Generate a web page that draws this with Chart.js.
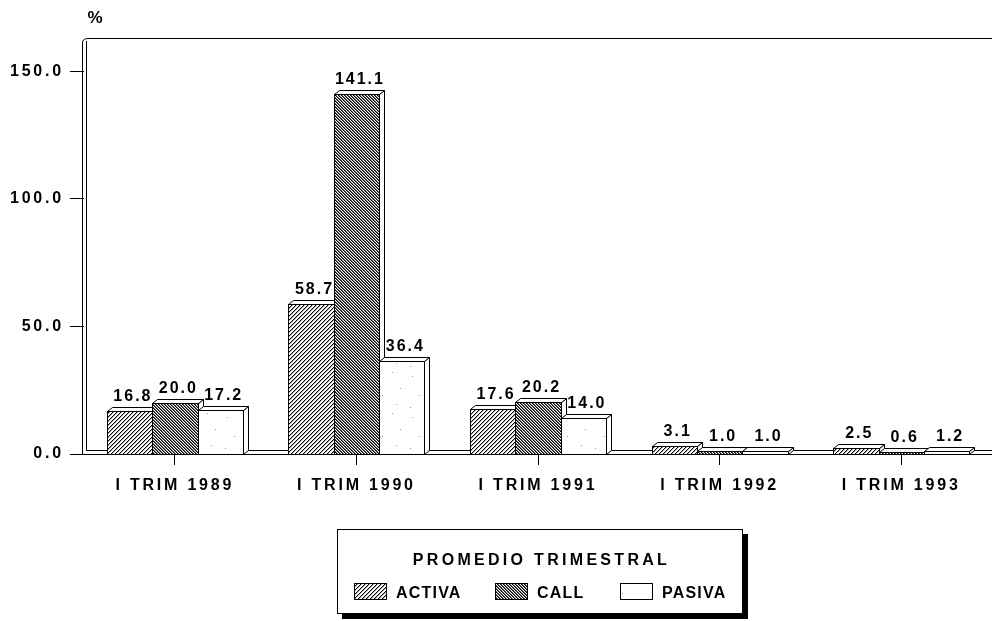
<!DOCTYPE html>
<html lang="es">
<head>
    <meta charset="UTF-8">
    <title>Promedio trimestral</title>
    <script src="https://cdn.jsdelivr.net/npm/chart.js@4.4.1/dist/chart.umd.min.js"></script>
    <style>
        body { margin: 0; background: #fff; }
        canvas { display: block; }
    </style>
</head>
<body>
    <canvas id="tasas" width="992" height="621"></canvas>

    <script>
        // datos
        const periodos = ['I TRIM 1989', 'I TRIM 1990', 'I TRIM 1991', 'I TRIM 1992', 'I TRIM 1993'];
        const activa = [16.8, 58.7, 17.6, 3.1, 2.5];
        const call = [20.0, 141.1, 20.2, 1.0, 0.6];
        const pasiva = [17.2, 36.4, 14.0, 1.0, 1.2];
        const yTicks = [0, 50, 100, 150];
        const series = ['ACTIVA', 'CALL', 'PASIVA'];
        const legendTitle = 'PROMEDIO TRIMESTRAL';

        const FONT = '"Liberation Sans", Arial, sans-serif';
        const DX = 5, DY = 4;   // profundidad 3D

        const canvas = document.getElementById('tasas');
        const ctx = canvas.getContext('2d');

        // rayado pixel a pixel: shades[k] es el color de la diagonal k
        function hatch(dir, period, shades) {
            const c = document.createElement('canvas');
            c.width = c.height = period;
            const g = c.getContext('2d');
            g.fillStyle = '#fff';
            g.fillRect(0, 0, period, period);
            for (let x = 0; x < period; x++) {
                for (let y = 0; y < period; y++) {
                    const k = ((dir === '/' ? x + y : x - y) % period + period) % period;
                    if (shades[k]) {
                        g.fillStyle = shades[k];
                        g.fillRect(x, y, 1, 1);
                    }
                }
            }
            return ctx.createPattern(c, 'repeat');
        }

        function dotted() {
            const c = document.createElement('canvas');
            c.width = 37; c.height = 41;
            const g = c.getContext('2d');
            g.fillStyle = '#fff';
            g.fillRect(0, 0, 37, 41);
            g.fillStyle = '#999';
            [[5, 7], [22, 3], [30, 19], [12, 26], [26, 35], [3, 38]].forEach(p => g.fillRect(p[0], p[1], 1, 1));
            return ctx.createPattern(c, 'repeat');
        }

        const fills = [
            hatch('/', 4, ['#000', '#aaa', null, null]),
            hatch('\\', 3, ['#000', '#666', null]),
            dotted()
        ];

        const bars3d = {
            id: 'bars3d',
            beforeDraw(chart) {
                chart.ctx.letterSpacing = '2.8px';
            },
            beforeDatasetsDraw(chart) {
                const c = chart.ctx;
                const a = chart.chartArea;
                const base = chart.scales.y.getPixelForValue(0);
                c.save();
                c.strokeStyle = '#000';
                c.lineWidth = 1;
                // marco y piso
                c.beginPath();
                c.moveTo(a.left - 1.5, base + 0.5);
                c.lineTo(a.left - 1.5, a.top + 5);
                c.quadraticCurveTo(a.left - 1.5, a.top + 0.5, a.left + 4, a.top + 0.5);
                c.lineTo(a.right, a.top + 0.5);
                c.moveTo(a.left + 2.5, base - DY + 0.5);
                c.lineTo(a.left + 2.5, a.top + 3);
                c.moveTo(a.left - 1.5, base + 0.5);
                c.lineTo(a.right, base + 0.5);
                c.moveTo(a.left + 2.5, base - DY + 0.5);
                c.lineTo(a.right, base - DY + 0.5);
                c.stroke();

                chart.data.datasets.forEach((ds, i) => {
                    chart.getDatasetMeta(i).data.forEach(bar => {
                        const p = bar.getProps(['x', 'y', 'base', 'width'], true);
                        const L = Math.round(p.x - p.width / 2) + 0.5;
                        const R = Math.round(p.x + p.width / 2) + 0.5;
                        const T = Math.round(p.y) + 0.5;
                        const B = Math.round(p.base) + 0.5;
                        c.fillStyle = '#fff';
                        c.beginPath();
                        c.moveTo(R, T);
                        c.lineTo(R + DX, T - DY);
                        c.lineTo(R + DX, B - DY);
                        c.lineTo(R, B);
                        c.closePath();
                        c.fill();
                        c.stroke();
                        c.beginPath();
                        c.moveTo(L, T);
                        c.lineTo(L + DX, T - DY);
                        c.lineTo(R + DX, T - DY);
                        c.lineTo(R, T);
                        c.closePath();
                        c.fill();
                        c.stroke();
                        c.fillStyle = ds.backgroundColor;
                        c.fillRect(L, T, R - L, B - T);
                        c.strokeRect(L, T, R - L, B - T);
                    });
                });
                c.restore();
                return false;
            },
            afterDraw(chart) {
                const c = chart.ctx;
                const a = chart.chartArea;
                c.save();
                c.fillStyle = '#000';
                c.textAlign = 'center';
                c.textBaseline = 'alphabetic';
                c.font = 'bold 16px ' + FONT;
                c.letterSpacing = '2px';
                chart.data.datasets.forEach((ds, i) => {
                    chart.getDatasetMeta(i).data.forEach((bar, j) => {
                        const p = bar.getProps(['x', 'y'], true);
                        c.fillText(ds.data[j].toFixed(1), p.x + DX / 2 + 1, p.y - DY - 6);
                    });
                });
                // unidad
                c.font = 'bold 17px ' + FONT;
                c.letterSpacing = '0px';
                c.fillText('%', a.left + 11, 23);

                // leyenda
                const bx = 337, by = 529, bw = 405, bh = 84;
                c.fillRect(bx + 5, by + 5, bw + 1, bh + 1);
                c.fillStyle = '#fff';
                c.fillRect(bx, by, bw, bh);
                c.strokeStyle = '#000';
                c.lineWidth = 1;
                c.strokeRect(bx + 0.5, by + 0.5, bw, bh);
                c.fillStyle = '#000';
                c.font = 'bold 16px ' + FONT;
                c.letterSpacing = '3.3px';
                c.fillText(legendTitle, bx + bw / 2 + 2, 565);
                const sw = [354, 495, 620];
                c.textAlign = 'left';
                c.letterSpacing = '1.2px';
                series.forEach((s, i) => {
                    c.fillStyle = fills[i];
                    c.fillRect(sw[i], 583, 32, 16);
                    c.strokeRect(sw[i] + 0.5, 583.5, 32, 16);
                    c.fillStyle = '#000';
                    c.fillText(s, sw[i] + 42, 598);
                });
                c.restore();
            }
        };

        Chart.defaults.font.family = FONT;
        Chart.defaults.font.size = 16;
        Chart.defaults.font.weight = 'bold';
        Chart.defaults.color = '#000';

        const chart = new Chart(ctx, {
            type: 'bar',
            data: {
                labels: periodos,
                datasets: [
                    { label: series[0], data: activa, backgroundColor: fills[0] },
                    { label: series[1], data: call, backgroundColor: fills[1] },
                    { label: series[2], data: pasiva, backgroundColor: fills[2] }
                ]
            },
            options: {
                responsive: false,
                animation: false,
                events: [],
                categoryPercentage: 0.75,
                barPercentage: 1.0,
                layout: { padding: { top: 38, right: 0, bottom: 127, left: 0 } },
                plugins: {
                    legend: { display: false },
                    tooltip: { enabled: false }
                },
                scales: {
                    x: {
                        border: { display: false },
                        grid: { drawOnChartArea: false, offset: false, tickLength: 11, color: '#000' },
                        ticks: { padding: 11, maxRotation: 0 },
                        afterFit: s => { s.height = 40; }
                    },
                    y: {
                        min: 0,
                        max: 163,
                        border: { display: false },
                        grid: { drawOnChartArea: false, tickLength: 14, color: '#000' },
                        ticks: { padding: 6, callback: v => v.toFixed(1) },
                        afterBuildTicks: s => { s.ticks = yTicks.map(v => ({ value: v })); },
                        afterFit: s => { s.width = 84; }
                    }
                }
            },
            plugins: [bars3d]
        });
    </script>
</body>
</html>
